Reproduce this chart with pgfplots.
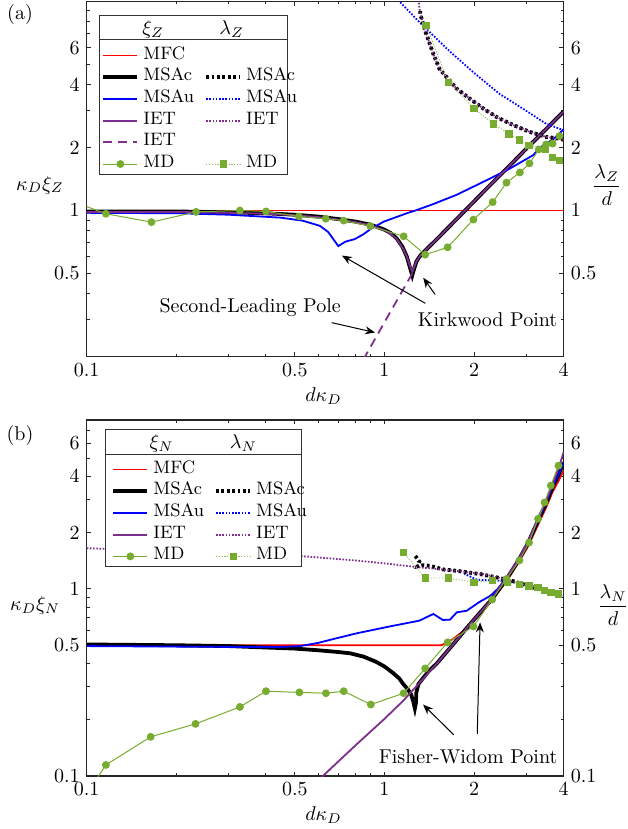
\documentclass[border=0pt]{standalone}
\usepackage{amsmath}
\usepackage{pgfplots}
\pgfplotsset{compat=1.18}
\usetikzlibrary{arrows.meta}
\definecolor{mpurple}{rgb}{0.494,0.184,0.556}
\definecolor{mgreen}{rgb}{0.466,0.674,0.188}
\definecolor{axgray}{rgb}{0.15,0.15,0.15}
\tikzset{
  redl/.style={red, line width=0.9pt},
  msac/.style={black, line width=1.9pt},
  msau/.style={blue, line width=0.9pt},
  iet/.style={mpurple, line width=0.9pt},
  ietdash/.style={mpurple, line width=0.9pt, dash pattern=on 4.5pt off 3pt},
  mdc/.style={mgreen, line width=0.5pt, mark=*, mark size=1.7pt, mark options={solid, fill=mgreen, draw=mgreen}},
  msacdot/.style={black, line width=1.9pt, dash pattern=on 1.4pt off 1.3pt},
  msaudot/.style={blue, line width=0.9pt, dash pattern=on 0.8pt off 0.8pt},
  ietdot/.style={mpurple, line width=0.9pt, dash pattern=on 0.8pt off 0.8pt},
  mds/.style={mgreen!80, line width=0.4pt, dash pattern=on 0.6pt off 0.8pt, mark=square*, mark size=1.6pt, mark options={solid, fill=mgreen, draw=mgreen}},
  arr/.style={black, line width=0.5pt, -{Stealth[length=5pt,width=4pt]}},
}
\begin{document}
\begin{tikzpicture}
\useasboundingbox (0,0) rectangle (313.5pt,-414.5pt);
% ---------------- panel (a) ----------------
\begin{axis}[at={(43.35pt,-178.35pt)}, anchor=south west,
  scale only axis, width=238.5pt, height=177.65pt,
  xmode=log, ymode=log, xmin=0.1, xmax=4, ymin=0.2, ymax=10,
  xtick={0.1,0.5,1,2,4}, xticklabels={$0.1$,$0.5$,$1$,$2$,$4$},
  minor xtick={0.2,0.3,0.4,0.6,0.7,0.8,0.9,3},
  ytick={0.5,1,2,4,6}, yticklabels={$0.5$,$1$,$2$,$4$,$6$},
  minor ytick={0.3,0.4,0.6,0.7,0.8,0.9,3,5,7,8,9},
  tick align=inside, xtick pos=both, ytick pos=both,
  major tick length=2.2pt, minor tick length=1.5pt,
  axis line style={axgray, line width=0.6pt},
  tick style={axgray, line width=0.5pt},
  legend columns=2, legend cell align=left,
  legend style={at={(0.030,0.8793)}, anchor=north west, draw=none, fill=none, inner sep=0pt, row sep=0pt, font=\small,
     nodes={inner ysep=0pt, text height=7.2pt, text depth=3.65pt},
     /tikz/every even column/.append style={column sep=3pt}},
  ]
\addplot[redl, forget plot] coordinates {(0.1,1) (4,1)};
\addplot[msac, forget plot] coordinates {(0.1,0.99) (0.2,0.99) (0.3,0.98) (0.4,0.97) (0.5,0.955) (0.6,0.935) (0.7,0.91) (0.8,0.885) (0.9,0.855) (1.0,0.81) (1.05,0.78) (1.1,0.735) (1.15,0.67) (1.19,0.6) (1.22,0.53) (1.24,0.49) (1.255,0.52) (1.28,0.57) (1.32,0.61) (1.5,0.73) (1.84,0.98) (2.2,1.27) (2.6,1.61) (3,1.98) (3.5,2.46) (4,2.98)};
\addplot[msau, forget plot] coordinates {(0.1,0.975) (0.206,0.97) (0.3,0.955) (0.446,0.925) (0.53,0.895) (0.607,0.845) (0.647,0.79) (0.70,0.676) (0.74,0.71) (0.795,0.73) (0.85,0.77) (0.899,0.816) (0.995,0.885) (1.13,0.945) (1.2,0.975) (1.27,1.0) (1.45,1.07) (1.75,1.19) (2.1,1.35) (2.58,1.56) (3.16,1.84) (3.33,2.0) (3.7,2.2) (4,2.45)};
\addplot[iet, forget plot] coordinates {(0.1,0.985) (0.2,0.985) (0.3,0.975) (0.4,0.965) (0.5,0.95) (0.6,0.93) (0.7,0.905) (0.8,0.88) (0.9,0.85) (1.0,0.805) (1.05,0.775) (1.1,0.73) (1.15,0.665) (1.19,0.6) (1.22,0.54) (1.24,0.51) (1.255,0.53) (1.28,0.57) (1.32,0.61) (1.5,0.73) (1.84,0.98) (2.2,1.27) (2.6,1.61) (3,1.98) (3.5,2.46) (4,2.98)};
\addplot[ietdash, forget plot] coordinates {(1.24,0.5) (1.05,0.33) (0.86,0.2) (0.84,0.19)};
\addplot[mdc, forget plot] coordinates {(0.095,1.074) (0.116,0.965) (0.165,0.88) (0.233,0.985) (0.327,1.0) (0.40,0.99) (0.516,0.937) (0.635,0.914) (0.73,0.895) (0.896,0.843) (1.16,0.753) (1.37,0.615) (1.63,0.667) (1.99,0.905) (2.31,1.097) (2.57,1.36) (2.85,1.52) (3.07,1.68) (3.3,1.96) (3.49,2.07) (3.67,2.09) (3.87,2.27)};
\addplot[msaudot, forget plot] coordinates {(1.13,9.9) (1.315,7.92) (1.65,5.8) (1.99,4.58) (2.43,3.62) (2.98,3.01) (3.49,2.6) (4,2.42)};
\addplot[msacdot, forget plot] coordinates {(1.318,9.0) (1.32,8.68) (1.37,7.23) (1.46,5.6) (1.53,4.76) (1.75,3.82) (1.94,3.42) (2.15,3.07) (2.38,2.8) (2.71,2.56) (3.07,2.38) (3.49,2.25) (3.84,2.21) (4,2.18)};
\addplot[ietdot, forget plot] coordinates {(1.30,10.2) (1.315,9.0) (1.33,8.4) (1.37,7.23) (1.46,5.6) (1.53,4.76) (1.75,3.82) (1.94,3.42) (2.15,3.07) (2.38,2.8) (2.71,2.56) (3.07,2.38) (3.49,2.25) (3.84,2.21) (4,2.18)};
\addplot[mds, forget plot] coordinates {(1.38,7.7) (1.64,4.1) (2.0,3.07) (2.32,2.6) (2.62,2.33) (2.84,2.18) (3.06,2.05) (3.48,1.97) (3.67,1.8) (3.87,1.74)};
\node at (axis cs:0.354,0.345) {Second-Leading Pole};
\draw[arr] (axis cs:0.665,0.291) -- (axis cs:0.93,0.261);
\node at (axis cs:2.22,0.302) {Kirkwood Point};
\draw[arr] (axis cs:1.372,0.36) -- (axis cs:0.72,0.609);
\draw[arr] (axis cs:1.48,0.397) -- (axis cs:1.35,0.477);
\filldraw[fill=white, draw=black!80, line width=0.5pt] (rel axis cs:0.0258,0.5142) rectangle (rel axis cs:0.4214,0.9617);
\draw[black!80, line width=0.5pt] (rel axis cs:0.0258,0.8914) -- (rel axis cs:0.4214,0.8914);
\node at (rel axis cs:0.1396,0.9223) {$\xi_Z$};
\node at (rel axis cs:0.304,0.9223) {$\lambda_Z$};
\addlegendimage{redl}\addlegendentry{MFC}
\addlegendimage{empty legend}\addlegendentry{}
\addlegendimage{msac}\addlegendentry{MSAc}
\addlegendimage{msacdot}\addlegendentry{MSAc}
\addlegendimage{msau}\addlegendentry{MSAu}
\addlegendimage{msaudot}\addlegendentry{MSAu}
\addlegendimage{iet}\addlegendentry{IET}
\addlegendimage{ietdot}\addlegendentry{IET}
\addlegendimage{ietdash}\addlegendentry{IET}
\addlegendimage{empty legend}\addlegendentry{}
\addlegendimage{mdc}\addlegendentry{MD}
\addlegendimage{mds}\addlegendentry{MD}
\end{axis}
\begin{axis}[at={(43.35pt,-178.35pt)}, anchor=south west,
  scale only axis, width=238.5pt, height=177.65pt,
  xmode=log, ymode=log, xmin=0.1, xmax=4, ymin=0.2, ymax=10,
  hide x axis, axis y line*=right,
  axis line style={draw=none}, ytick style={draw=none},
  ytick={0.5,1,2,4,6}, yticklabels={$0.5$,$1$,$2$,$4$,$6$}]
\addplot[draw=none] coordinates {(1,1)};
\end{axis}
% ---------------- panel (b) ----------------
\begin{axis}[at={(43.35pt,-388pt)}, anchor=south west,
  scale only axis, width=238.5pt, height=178pt,
  xmode=log, ymode=log, xmin=0.1, xmax=4, ymin=0.1, ymax=8,
  xtick={0.1,0.5,1,2,4}, xticklabels={$0.1$,$0.5$,$1$,$2$,$4$},
  minor xtick={0.2,0.3,0.4,0.6,0.7,0.8,0.9,3},
  ytick={0.1,0.5,1,2,4,6}, yticklabels={$0.1$,$0.5$,$1$,$2$,$4$,$6$},
  minor ytick={0.2,0.3,0.4,0.6,0.7,0.8,0.9,3,5,7},
  tick align=inside, xtick pos=both, ytick pos=both,
  major tick length=2.2pt, minor tick length=1.5pt,
  axis line style={axgray, line width=0.6pt},
  tick style={axgray, line width=0.5pt},
  legend columns=2, legend cell align=left,
  legend style={at={(0.0509,0.8924)}, anchor=north west, draw=none, fill=none, inner sep=0pt, row sep=0pt, font=\small,
     nodes={inner ysep=0pt, text height=7.2pt, text depth=3.65pt},
     /tikz/every even column/.append style={column sep=3pt}},
  ]
\addplot[redl, forget plot] coordinates {(0.1,0.5) (1.55,0.5) (1.62,0.515) (1.7,0.54) (1.9,0.62) (2.1,0.74) (2.3,0.87) (2.58,1.11) (2.81,1.37) (3.03,1.68) (3.28,2.2) (3.5,2.75) (3.67,3.3) (3.85,3.8) (4,4.3)};
\addplot[msac, forget plot] coordinates {(0.1,0.505) (0.2,0.5) (0.3,0.495) (0.354,0.49) (0.5,0.48) (0.6,0.47) (0.7,0.46) (0.766,0.453) (0.85,0.435) (0.94,0.407) (1.0,0.385) (1.07,0.355) (1.12,0.333) (1.157,0.31) (1.2,0.29) (1.23,0.272) (1.25,0.25) (1.265,0.23) (1.275,0.245) (1.28,0.28) (1.3,0.31) (1.4,0.36) (1.5,0.40) (1.7,0.505) (1.9,0.625) (2.1,0.75) (2.3,0.885) (2.58,1.14) (2.81,1.41) (3.03,1.75) (3.28,2.32) (3.5,2.9) (3.67,3.5) (3.85,4.1) (4.0,4.75)};
\addplot[msau, forget plot] coordinates {(0.1,0.495) (0.3,0.49) (0.45,0.49) (0.52,0.495) (0.6,0.515) (0.674,0.54) (0.81,0.58) (1.04,0.63) (1.31,0.677) (1.46,0.735) (1.57,0.683) (1.66,0.685) (1.75,0.75) (1.89,0.765) (2.08,0.85) (2.27,0.92) (2.4,1.0) (2.58,1.15) (2.81,1.42) (3.03,1.76) (3.28,2.34) (3.5,2.93) (3.67,3.55) (3.85,4.1) (4.0,4.75)};
\addplot[iet, forget plot] coordinates {(0.6,0.095) (0.8,0.146) (1.0,0.202) (1.16,0.254) (1.3,0.31) (1.5,0.40) (1.7,0.505) (1.9,0.625) (2.1,0.75) (2.3,0.89) (2.58,1.16) (2.81,1.43) (3.03,1.78) (3.28,2.38) (3.5,3.0) (3.67,3.65) (3.85,4.45) (4.0,5.4)};
\addplot[mdc, forget plot] coordinates {(0.105,0.09) (0.116,0.1146) (0.164,0.162) (0.232,0.19) (0.327,0.234) (0.40,0.284) (0.518,0.28) (0.636,0.277) (0.73,0.284) (0.90,0.241) (1.16,0.277) (1.37,0.376) (1.63,0.518) (1.99,0.63) (2.30,0.877) (2.57,1.13) (2.84,1.42) (3.06,1.77) (3.28,2.37) (3.45,2.9) (3.62,3.57) (3.84,4.56)};
\addplot[msaudot, forget plot] coordinates {(1.85,1.21) (1.95,1.16) (2.05,1.12) (2.3,1.11) (2.6,1.1) (3.0,1.04) (3.5,0.97) (4,0.92)};
\addplot[msacdot, forget plot] coordinates {(1.27,1.5) (1.31,1.4) (1.29,1.32) (1.35,1.34) (1.42,1.33) (1.58,1.27) (1.75,1.25) (2.1,1.2) (2.4,1.15) (2.71,1.1) (3.16,1.02) (3.6,0.96) (4,0.91)};
\addplot[ietdot, forget plot] coordinates {(0.1,1.65) (0.3,1.57) (0.55,1.49) (0.8,1.42) (1.0,1.37) (1.28,1.31) (1.66,1.26) (2.15,1.2) (2.58,1.12) (3.07,1.04) (3.67,0.96) (4,0.92)};
\addplot[mds, forget plot] coordinates {(1.157,1.57) (1.37,1.145) (1.64,1.145) (2.0,1.085) (2.3,1.11) (2.59,1.085) (2.84,1.06) (3.06,1.04) (3.28,1.02) (3.45,0.98) (3.62,0.96) (3.84,0.94)};
\node at (axis cs:1.91,0.127) {Fisher-Widom Point};
\draw[arr] (axis cs:1.71,0.166) -- (axis cs:1.348,0.241);
\draw[arr] (axis cs:2.05,0.168) -- (axis cs:2.095,0.663);
\filldraw[fill=white, draw=black!80, line width=0.5pt] (rel axis cs:0.0384,0.5899) rectangle (rel axis cs:0.4507,0.9739);
\draw[black!80, line width=0.5pt] (rel axis cs:0.0384,0.9037) -- (rel axis cs:0.4507,0.9037);
\node at (rel axis cs:0.1572,0.9354) {$\xi_N$};
\node at (rel axis cs:0.3283,0.9354) {$\lambda_N$};
\addlegendimage{redl}\addlegendentry{MFC}
\addlegendimage{empty legend}\addlegendentry{}
\addlegendimage{msac}\addlegendentry{MSAc}
\addlegendimage{msacdot}\addlegendentry{MSAc}
\addlegendimage{msau}\addlegendentry{MSAu}
\addlegendimage{msaudot}\addlegendentry{MSAu}
\addlegendimage{iet}\addlegendentry{IET}
\addlegendimage{ietdot}\addlegendentry{IET}
\addlegendimage{mdc}\addlegendentry{MD}
\addlegendimage{mds}\addlegendentry{MD}
\end{axis}
\begin{axis}[at={(43.35pt,-388pt)}, anchor=south west,
  scale only axis, width=238.5pt, height=178pt,
  xmode=log, ymode=log, xmin=0.1, xmax=4, ymin=0.1, ymax=8,
  hide x axis, axis y line*=right,
  axis line style={draw=none}, ytick style={draw=none},
  ytick={0.1,0.5,1,2,4,6}, yticklabels={$0.1$,$0.5$,$1$,$2$,$4$,$6$}]
\addplot[draw=none] coordinates {(1,1)};
\end{axis}
% ---------------- outer labels ----------------
\node at (10pt,-7.5pt) {(a)};
\node at (10pt,-217.5pt) {(b)};
\node at (20pt,-92.5pt) {$\kappa_D\xi_Z$};
\node at (303.35pt,-92.5pt) {$\dfrac{\lambda_Z}{d}$};
\node at (17.5pt,-302.5pt) {$\kappa_D\xi_N$};
\node at (306.5pt,-302.5pt) {$\dfrac{\lambda_N}{d}$};
\node at (161.75pt,-198pt) {$d\kappa_D$};
\node at (161.75pt,-407.5pt) {$d\kappa_D$};
\end{tikzpicture}
\end{document}
